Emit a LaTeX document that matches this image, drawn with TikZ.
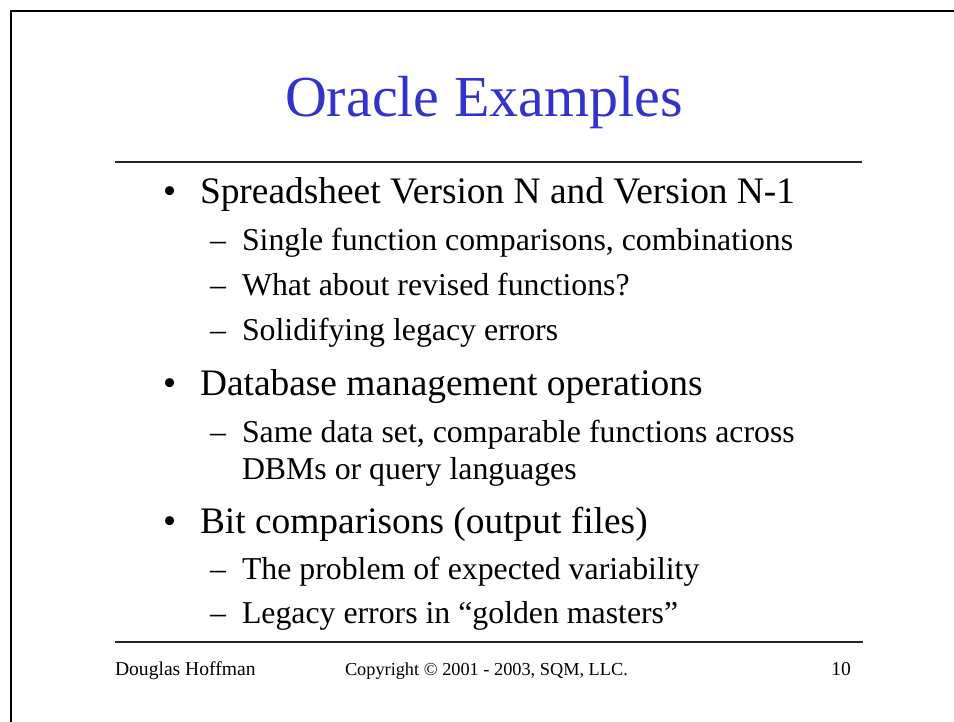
\documentclass[tikz,border=0pt]{standalone}
\usepackage{fontspec}
\setmainfont{Liberation Serif}
\definecolor{titleblue}{RGB}{51,51,204}
\begin{document}
\begin{tikzpicture}[x=1pt,y=-1pt,
  every node/.style={inner sep=0pt,outer sep=0pt},
  titletext/.style={font=\fontsize{58}{60}\selectfont,text=titleblue,anchor=base},
  lvlone/.style={font=\fontsize{37.4}{40}\selectfont,anchor=base west},
  lvltwo/.style={font=\fontsize{31.8}{34}\selectfont,anchor=base west},
  foot/.style={font=\fontsize{19.6}{21}\selectfont},
  footsmall/.style={font=\fontsize{18.3}{20}\selectfont},
  rule/.style={line width=1.4pt,black!85}]
\useasboundingbox (0,0) rectangle (954,721);
\draw[line width=2.6pt] (11,730) -- (11,11) -- (965,11);
\node[titletext] (title) at (484,116) {Oracle Examples};
\coordinate (tr1) at (115,162);
\coordinate (tr2) at (862,162);
\draw[rule] (tr1) -- (tr2);
% bullets level one
\node[lvlone] (b1d) at (163,203) {•};
\node[lvlone] (b1) at (200,203) {Spreadsheet Version N and Version N-1};
\node[lvltwo] (s1d) at (210,250) {–};
\node[lvltwo] (s1) at (242,250) {Single function comparisons, combinations};
\node[lvltwo] (s2d) at (210,295) {–};
\node[lvltwo] (s2) at (242,295) {What about revised functions?};
\node[lvltwo] (s3d) at (210,340) {–};
\node[lvltwo] (s3) at (242,340) {Solidifying legacy errors};
\node[lvlone] (b2d) at (163,395) {•};
\node[lvlone] (b2) at (200,395) {Database management operations};
\node[lvltwo] (s4d) at (210,442) {–};
\node[lvltwo] (s4) at (242,442) {Same data set, comparable functions across};
\node[lvltwo] (s4b) at (242,479) {DBMs or query languages};
\node[lvlone] (b3d) at (163,533) {•};
\node[lvlone] (b3) at (200,533) {Bit comparisons (output files)};
\node[lvltwo] (s5d) at (210,579) {–};
\node[lvltwo] (s5) at (242,579) {The problem of expected variability};
\node[lvltwo] (s6d) at (210,623) {–};
\node[lvltwo] (s6) at (242,623) {Legacy errors in “golden masters”};
\coordinate (br1) at (115,642);
\coordinate (br2) at (863,642);
\draw[rule] (br1) -- (br2);
\node[foot,anchor=base west] (author) at (115,675) {Douglas Hoffman};
\node[footsmall,anchor=base west] (copy) at (345,675) {Copyright © 2001 - 2003, SQM, LLC.};
\node[foot,anchor=base east] (page) at (851,675) {10};
\end{tikzpicture}
\end{document}
